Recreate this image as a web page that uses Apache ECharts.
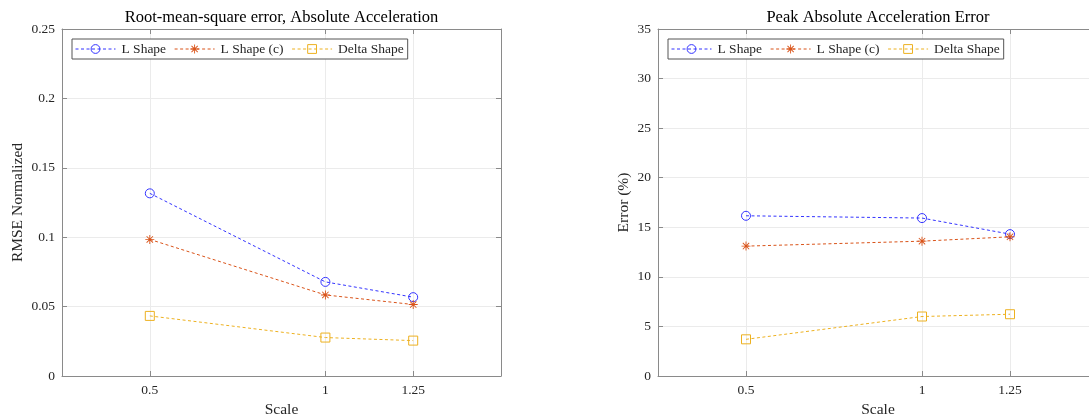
<!DOCTYPE html>
<html>
<head>
<meta charset="utf-8">
<script src="https://cdn.jsdelivr.net/npm/echarts@6/dist/echarts.min.js"></script>
<style>
  html, body { margin: 0; padding: 0; background: #fff; overflow: hidden; }
  /* the canvas runs a little past the window so the second panel's right edge falls outside it */
  #chart { width: 1110px; height: 417px; }
</style>
</head>
<body>
<div id="chart"></div>
<script>
// Scale values on the x axis and the ticks shown there
const scales = [0.5, 1, 1.25];
const xTicks = [0.5, 1, 1.25];
const seriesNames = ['L Shape', 'L Shape (c)', 'Delta Shape'];

// Root-mean-square error of absolute acceleration (normalized)
const rmseL = [0.1316, 0.0678, 0.0568];
const rmseLc = [0.0984, 0.0584, 0.0515];
const rmseDelta = [0.0433, 0.0277, 0.0255];

// Peak absolute acceleration error (%)
const peakL = [16.16, 15.93, 14.31];
const peakLc = [13.1, 13.6, 14.04];
const peakDelta = [3.7, 6.0, 6.23];

const FONT = '"Liberation Serif", "Times New Roman", serif';
const TEXT = '#262626';
const AXIS = '#8a8a8a';
const GRIDLINE = '#ebebeb';
const colors = ['#3333ff', '#D95319', '#EDB120'];

// asterisk marker built from four thin bars (+ and x)
const STAR = 'path://M4.5 0 h1 v10 h-1 z M0 4.5 h10 v1 h-10 z ' +
  'M1.11 1.81 L1.81 1.11 L8.89 8.19 L8.19 8.89 Z ' +
  'M8.19 1.11 L8.89 1.81 L1.81 8.89 L1.11 8.19 Z';
const symbols = ['circle', STAR, 'rect'];

function pairs(ys) { return scales.map((x, i) => [x, ys[i]]); }

function makeSeries(values, xi, yi) {
  return values.map((ys, k) => ({
    name: seriesNames[k],
    type: 'line',
    xAxisIndex: xi,
    yAxisIndex: yi,
    data: pairs(ys),
    symbol: symbols[k],
    symbolSize: 9,
    showSymbol: true,
    animation: false,
    lineStyle: { color: colors[k], width: 1, type: [3, 2.5] },
    itemStyle: k === 1
      ? { color: colors[k], borderWidth: 0 }
      : { color: 'rgba(255,255,255,0)', borderColor: colors[k], borderWidth: 1 },
    emphasis: { disabled: true },
    z: 3 + k
  }));
}

function bottomX(grid, name) {
  return {
    type: 'value', gridIndex: grid, min: 0.25, max: 1.5, position: 'bottom',
    name: name, nameLocation: 'middle', nameGap: 23,
    nameTextStyle: { fontFamily: FONT, fontSize: 15.5, color: TEXT },
    axisLine: { show: true, onZero: false, lineStyle: { color: AXIS, width: 1 } },
    axisTick: { show: true, inside: true, length: 5, customValues: xTicks, lineStyle: { color: AXIS } },
    axisLabel: { customValues: xTicks, formatter: v => String(v), color: TEXT, fontFamily: FONT, fontSize: 13.5, margin: 7 },
    splitLine: { show: true, lineStyle: { color: GRIDLINE, width: 1 } }
  };
}
function topX(grid) {
  return {
    type: 'value', gridIndex: grid, min: 0.25, max: 1.5, position: 'top',
    axisLine: { show: true, onZero: false, lineStyle: { color: AXIS, width: 1 } },
    axisTick: { show: true, inside: true, length: 5, customValues: xTicks, lineStyle: { color: AXIS } },
    axisLabel: { show: false },
    splitLine: { show: false }
  };
}
function leftY(grid, max, interval, name, gap) {
  return {
    type: 'value', gridIndex: grid, min: 0, max: max, interval: interval, position: 'left',
    name: name, nameLocation: 'middle', nameGap: gap,
    nameTextStyle: { fontFamily: FONT, fontSize: 15.5, color: TEXT },
    axisLine: { show: true, onZero: false, lineStyle: { color: AXIS, width: 1 } },
    axisTick: { show: true, inside: true, length: 5, lineStyle: { color: AXIS } },
    axisLabel: { color: TEXT, fontFamily: FONT, fontSize: 13.5, margin: 7 },
    splitLine: { show: true, lineStyle: { color: GRIDLINE, width: 1 } }
  };
}
function rightY(grid, max, interval) {
  return {
    type: 'value', gridIndex: grid, min: 0, max: max, interval: interval, position: 'right',
    axisLine: { show: true, onZero: false, lineStyle: { color: AXIS, width: 1 } },
    axisTick: { show: true, inside: true, length: 5, lineStyle: { color: AXIS } },
    axisLabel: { show: false },
    splitLine: { show: false }
  };
}
function legendAt(left) {
  return {
    left: left, top: 39, orient: 'horizontal',
    data: seriesNames.map((n, k) => ({
      name: n,
      itemStyle: { borderWidth: k === 1 ? 0 : 1 }
    })),
    itemWidth: 40, itemHeight: 11, itemGap: 8,
    padding: [3, 4, 3, 3],
    borderColor: '#555', borderWidth: 1, backgroundColor: '#fff',
    lineStyle: { width: 1 },
    textStyle: { fontFamily: FONT, fontSize: 13.5, color: TEXT, padding: [0, 0, 0, 1] },
    selectedMode: false
  };
}

const chart = echarts.init(document.getElementById('chart'), null, { renderer: 'canvas' });
chart.setOption({
  animation: false,
  graphic: [
    { type: 'text', x: 281.5, y: 17.5, z: 10,
      style: { text: 'Root-mean-square error, Absolute Acceleration', fill: '#000',
               font: '16.5px ' + FONT, align: 'center', verticalAlign: 'middle' } },
    { type: 'text', x: 878, y: 17.5, z: 10,
      style: { text: 'Peak Absolute Acceleration Error', fill: '#000',
               font: '16.5px ' + FONT, align: 'center', verticalAlign: 'middle' } }
  ],
  legend: [legendAt(72), legendAt(668)],
  grid: [
    { left: 62, top: 29, width: 439, height: 347, containLabel: false, outerBoundsMode: 'none' },
    { left: 658, top: 29, width: 440, height: 347, containLabel: false, outerBoundsMode: 'none' }
  ],
  xAxis: [bottomX(0, 'Scale'), topX(0), bottomX(1, 'Scale'), topX(1)],
  yAxis: [
    leftY(0, 0.25, 0.05, 'RMSE Normalized', 36),
    rightY(0, 0.25, 0.05),
    leftY(1, 35, 5, 'Error (%)', 26),
    rightY(1, 35, 5)
  ],
  series: [
    ...makeSeries([rmseL, rmseLc, rmseDelta], 0, 0),
    ...makeSeries([peakL, peakLc, peakDelta], 2, 2)
  ]
});
</script>
</body>
</html>
